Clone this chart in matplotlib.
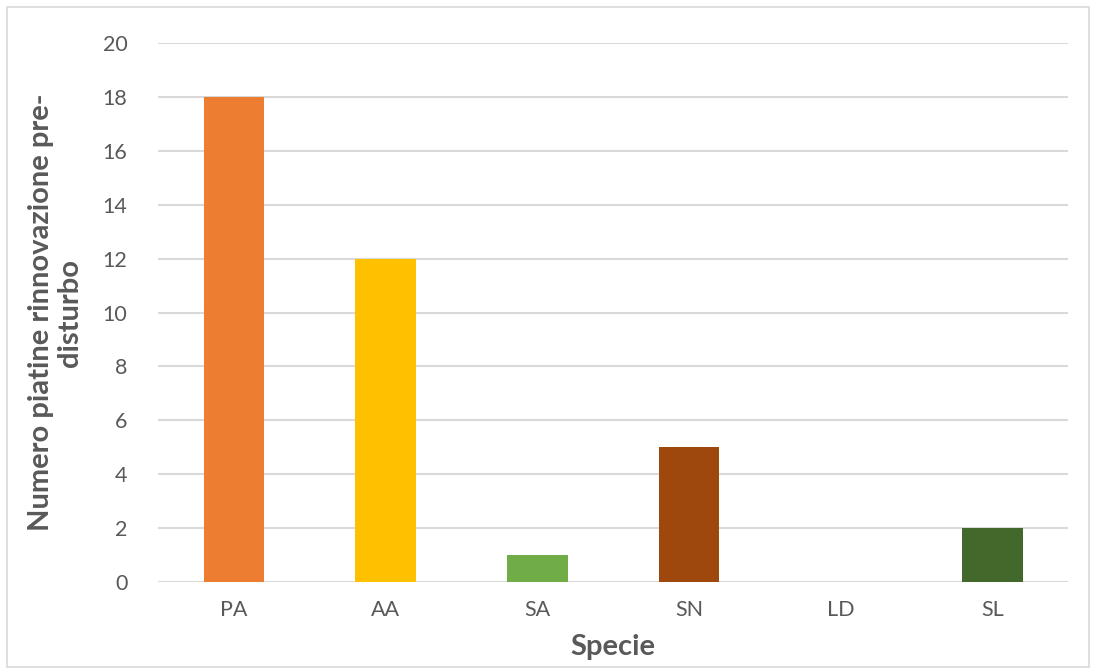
import matplotlib.pyplot as plt
from matplotlib.patches import Rectangle

species = ['PA', 'AA', 'SA', 'SN', 'LD', 'SL']
counts = [18, 12, 1, 5, 0, 2]
colors = ['#ED7D31', '#FFC000', '#70AD47', '#9E480E', '#4472C4', '#43682B']

plt.rcParams['font.family'] = ['Lato', 'DejaVu Sans']

fig = plt.figure(figsize=(10.96, 6.7), dpi=100)
ax = fig.add_axes([0.1442, 0.1313, 0.9745 - 0.1442, 0.9358 - 0.1313])

# chart border
fig.patches.append(Rectangle((0.006, 0.004), 0.988, 0.986, transform=fig.transFigure,
                             fill=False, edgecolor='#D9D9D9', linewidth=1.2))

x = range(len(species))
ax.bar(x, counts, width=0.4, color=colors, zorder=3)

ax.set_xlim(-0.5, len(species) - 0.5)
ax.set_ylim(0, 20)
ax.set_yticks(range(0, 21, 2))
ax.set_xticks(list(x))
ax.set_xticklabels(species)
ax.yaxis.grid(True, color='#D9D9D9', linewidth=1.5, zorder=0)
ax.set_axisbelow(True)
for s in ax.spines.values():
    s.set_visible(False)
ax.tick_params(length=0, labelsize=15.5, labelcolor='#595959')
ax.tick_params(axis='y', pad=22)
ax.tick_params(axis='x', pad=13)

ax.set_xlabel('Specie', fontsize=21, fontweight='bold', color='#595959', labelpad=10)
ax.set_ylabel('Numero piatine rinnovazione pre-\ndisturbo', fontsize=21, fontweight='bold',
              color='#595959', labelpad=14, linespacing=1.15)

fig.savefig('out.png', dpi=100)
